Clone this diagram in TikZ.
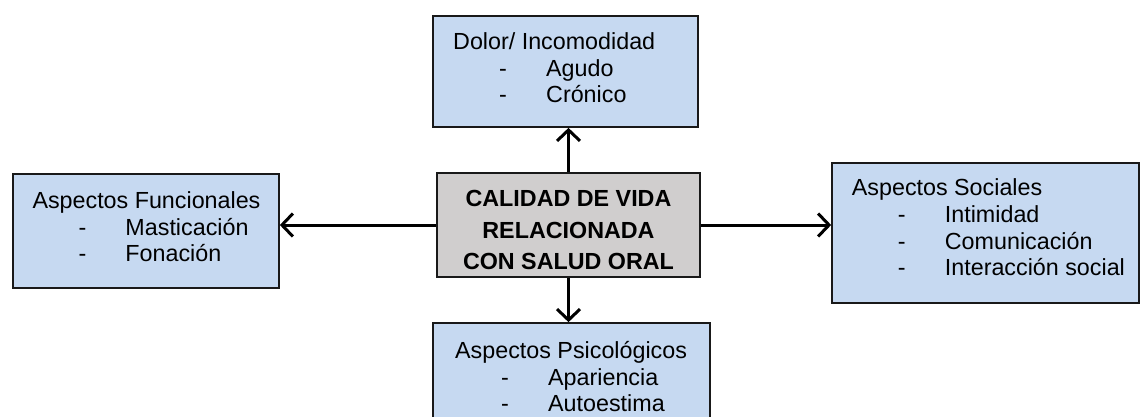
\documentclass[tikz,border=0pt]{standalone}
\usepackage{fontspec}
\setmainfont{Liberation Sans}
\usetikzlibrary{arrows.meta}
\definecolor{bluefill}{RGB}{198,217,241}
\definecolor{grayfill}{RGB}{208,206,206}
\definecolor{edge}{RGB}{25,25,25}
\newcommand{\itm}[1]{\makebox[93pt][l]{\hspace*{46pt}-}#1}
\tikzset{
  box/.style={draw=edge, line width=1.7pt, fill=bluefill, rectangle, inner sep=0pt},
  cbox/.style={box, fill=grayfill},
  lbl/.style={anchor=base west, inner sep=0pt, font=\fontsize{23.3}{26.7}\selectfont},
  clbl/.style={anchor=base, inner sep=0pt, font=\fontsize{23.3}{26.7}\selectfont\bfseries},
  conn/.style={draw=black, line width=3pt, -{Straight Barb[length=11pt,width=23pt]}}
}
\begin{document}
\begin{tikzpicture}[x=1pt,y=-1pt]
\useasboundingbox (0,0) rectangle (1141,416);
\clip (0,0) rectangle (1141,416);
\fill[white] (0,0) rectangle (1141,416);
% boxes
\node[box, minimum width=265pt, minimum height=111pt] (T) at (565.5,71.5) {};
\node[box, minimum width=266pt, minimum height=114pt] (L) at (146,231) {};
\node[cbox, minimum width=263pt, minimum height=104pt] (C) at (568.5,225) {};
\node[box, minimum width=307pt, minimum height=140pt] (R) at (985.5,233) {};
\node[box, minimum width=277pt, minimum height=117pt] (B) at (571.5,381.5) {};
% connectors
\draw[conn] (C.north) -- (C.north |- T.south);
\draw[conn] (C.south) -- (C.south |- B.north);
\draw[conn] (C.west) -- (C.west -| L.east);
\draw[conn] (C.east) -- (C.east -| R.west);
% center text
\node[clbl] (c1) at (568.5,206.5) {CALIDAD DE VIDA};
\node[clbl] (c2) at (568.5,238.2) {RELACIONADA};
\node[clbl] (c3) at (568.5,269.9) {CON SALUD ORAL};
% top box text
\node[lbl] (t1) at (453,49.5) {Dolor/ Incomodidad};
\node[lbl] (t2) at (453,76.2) {\itm{Agudo}};
\node[lbl] (t3) at (453,102.9) {\itm{Crónico}};
% left box text
\node[lbl] (l1) at (32.3,208.3) {Aspectos Funcionales};
\node[lbl] (l2) at (32.3,235) {\itm{Masticación}};
\node[lbl] (l3) at (32.3,261.7) {\itm{Fonación}};
% right box text
\node[lbl] (r1) at (851.7,195.7) {Aspectos Sociales};
\node[lbl] (r2) at (851.7,222.4) {\itm{Intimidad}};
\node[lbl] (r3) at (851.7,249.1) {\itm{Comunicación}};
\node[lbl] (r4) at (851.7,275.8) {\itm{Interacción social}};
% bottom box text
\node[lbl] (b1) at (455,358.4) {Aspectos Psicológicos};
\node[lbl] (b2) at (455,385.1) {\itm{Apariencia}};
\node[lbl] (b3) at (455,411.8) {\itm{Autoestima}};
\end{tikzpicture}
\end{document}
